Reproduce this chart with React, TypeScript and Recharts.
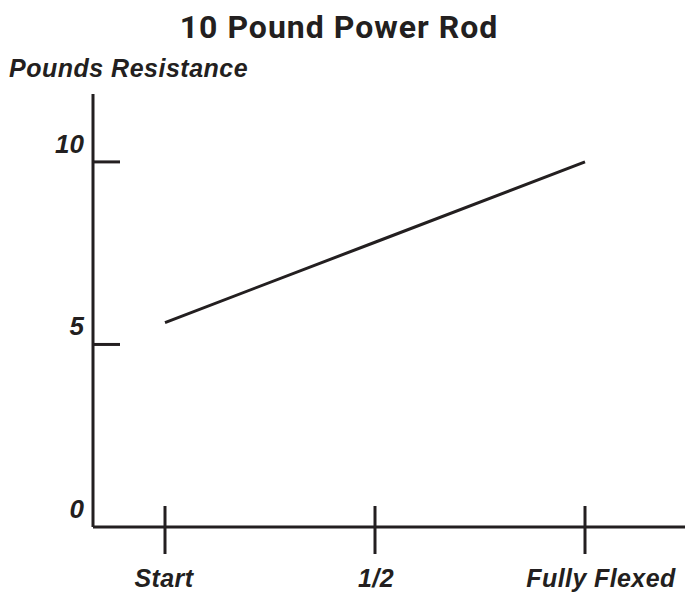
import { Line, LineChart, XAxis, YAxis } from "recharts";

const categories = ["Start", "1/2", "Fully Flexed"];
const resistance = [5.6, 7.8, 10];
const yTicks = [0, 5, 10];

const data = categories.map((stage, i) => ({ stage, resistance: resistance[i] }));

const ink = "#231f20";
const labelFont = "'Liberation Sans', Arial, sans-serif";
// the last label sits a bit right of its tick in the original
const xLabelShift = [-1, 1, 16];

function YTick({ x, y, payload }: any) {
  const v = Number(payload.value);
  return (
    <g>
      {v > 0 ? <line x1={x} y1={y} x2={x + 27} y2={y} stroke={ink} strokeWidth={3} /> : null}
      <text x={x - 9} y={y - 9} textAnchor="end" fill={ink} fontFamily={labelFont} fontWeight={700} fontStyle="italic" fontSize={26}>
        {v}
      </text>
    </g>
  );
}

function XTick({ x, y, payload, index }: any) {
  return (
    <g>
      <line x1={x} y1={y - 21} x2={x} y2={y + 27} stroke={ink} strokeWidth={3} />
      <text
        x={x + (xLabelShift[index] ?? 0)}
        y={y + 60}
        textAnchor="middle"
        fill={ink}
        fontFamily={labelFont}
        fontWeight={700}
        fontStyle="italic"
        fontSize={25}
        letterSpacing={0.4}
      >
        {payload.value}
      </text>
    </g>
  );
}

export default function App() {
  return (
    <div style={{ position: "absolute", left: 0, top: 0, width: 698, height: 594, background: "#fff" }}>
      <div
        style={{
          position: "absolute",
          left: 0,
          width: 678,
          top: 9,
          textAlign: "center",
          fontFamily: "Roboto, sans-serif",
          fontWeight: 700,
          fontSize: 32,
          letterSpacing: 1,
          color: ink,
          lineHeight: "36px",
        }}
      >
        10 Pound Power Rod
      </div>
      <div
        style={{
          position: "absolute",
          left: 9,
          top: 53,
          fontFamily: labelFont,
          fontWeight: 700,
          fontStyle: "italic",
          fontSize: 25,
          letterSpacing: 0.5,
          color: ink,
          lineHeight: "30px",
        }}
      >
        Pounds Resistance
      </div>
      <LineChart width={698} height={594} data={data} margin={{ top: 94, right: 13, bottom: 27, left: 33 }}>
        <XAxis
          dataKey="stage"
          height={40}
          padding={{ left: 72, right: 100 }}
          axisLine={{ stroke: ink, strokeWidth: 3 }}
          tickLine={false}
          tickSize={0}
          tickMargin={0}
          tick={<XTick />}
          interval={0}
        />
        <YAxis
          width={60}
          domain={[0, 11.86]}
          ticks={yTicks}
          axisLine={{ stroke: ink, strokeWidth: 3 }}
          tickLine={false}
          tickSize={0}
          tickMargin={0}
          tick={<YTick />}
        />
        <Line type="linear" dataKey="resistance" stroke={ink} strokeWidth={3} dot={false} isAnimationActive={false} />
      </LineChart>
    </div>
  );
}
